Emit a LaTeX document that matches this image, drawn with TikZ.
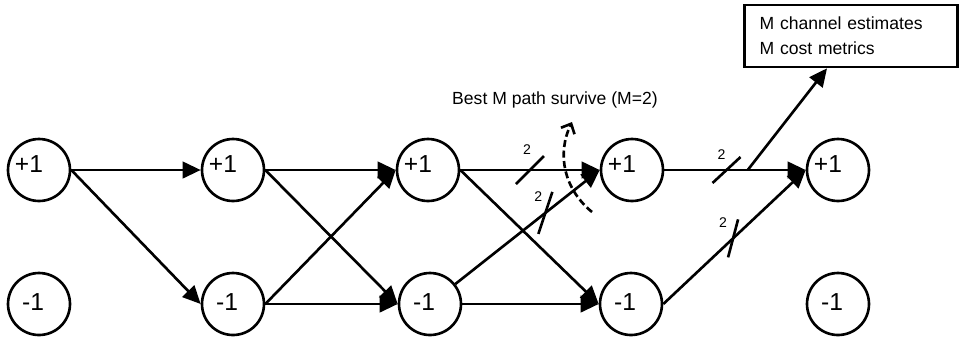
\documentclass[tikz,border=0pt]{standalone}
\usepackage{fontspec}
\setmainfont{Liberation Sans}
\usetikzlibrary{arrows.meta, positioning, calc}

\begin{document}
\begin{tikzpicture}[
      x=0.02cm, y=-0.02cm,
      state/.style={circle, draw, line width=1.5pt, minimum size=1.24cm, inner sep=0pt},
      val/.style={shift={(#1)}, inner sep=0pt, font=\fontsize{14}{16}\selectfont},
      arr/.style={-{Triangle[length=0.36cm, width=0.33cm]}, line width=1.5pt},
      bar/.style={line width=1.5pt},
      num/.style={font=\fontsize{8}{9}\selectfont, inner sep=0pt},
      surv/.style={-{Straight Barb[length=0.16cm, width=0.3cm]}, line width=1.5pt,
                   dash pattern=on 4pt off 2pt},
      box/.style={rectangle, draw, line width=1.5pt, minimum width=4.26cm, minimum height=1.24cm,
                  text width=3.66cm, inner xsep=0.3cm, align=left,
                  font=\fontsize{10}{14}\selectfont}
    ]
      \useasboundingbox (0,0) rectangle (960,343);

      \node[state, label={[val={-10,-6}]center:+1}] (c1p) at (39,170) {};
      \node[state, label={[val={-6,-2}]center:-1}] (c1m) at (39,304) {};
      \node[state, label={[val={-10,-6}]center:+1}] (c2p) at (233,170) {};
      \node[state, label={[val={-6,-2}]center:-1}] (c2m) at (233,304) {};
      \node[state, label={[val={-10,-6}]center:+1}] (c3p) at (428,170) {};
      \node[state, label={[val={-6,-2}]center:-1}] (c3m) at (430,304) {};
      \node[state, label={[val={-10,-6}]center:+1}] (c4p) at (632,170) {};
      \node[state, label={[val={-6,-2}]center:-1}] (c4m) at (631,304) {};
      \node[state, label={[val={-10,-6}]center:+1}] (c5p) at (838,170) {};
      \node[state, label={[val={-6,-2}]center:-1}] (c5m) at (838,304) {};

      \draw[arr] (c1p.east) -- (c2p.west);
      \draw[arr] (c1p.east) -- (c2m.west);
      \draw[arr] (c2p.east) -- (c3p.west);
      \draw[arr] (c2p.east) -- (c3m.west);
      \draw[arr] (c2m.east) -- (c3p.west);
      \draw[arr] (c2m.east) -- (c3m.west);
      \draw[arr] (c3p.east) -- (c4p.west);
      \draw[arr] (c3p.east) -- (c4m.west);
      \draw[arr] (c3m) -- (c4p.west);
      \draw[arr] (c3m.east) -- (c4m.west);
      \draw[arr] (c4p.east) -- (c5p.west);
      \draw[arr] (c4m.east) -- (c5p.west);

      % two-path bus marks
      \coordinate (k1) at ($(c3p.east)!0.5!(c4p.west)$);
      \coordinate (k2) at ($(c3m)!0.68!(c4p.west)$);
      \coordinate (k3) at ($(c4p.east)!0.44!(c5p.west)$);
      \coordinate (k4) at ($(c4m.east)!0.49!(c5p.west)$);
      \draw[bar] (k1) +(-14,14) -- +(14,-14);
      \draw[bar] (k2) +(-7,21) -- +(7,-21);
      \draw[bar] (k3) +(-14,13) -- +(14,-13);
      \draw[bar] (k4) +(-5,19) -- +(5,-19);
      \node[num] (n1) at ($(k1)+(-3,-20)$) {2};
      \node[num] (n2) at ($(k2)+(-7,-16)$) {2};
      \node[num] (n3) at ($(k3)+(-5,-15)$) {2};
      \node[num] (n4) at ($(k4)+(-10,-16)$) {2};

      % survivor selection
      \coordinate (sv0) at (592,212);
      \coordinate (sv1) at (572,122);
      \draw[surv] (sv0) to[bend left=38] (sv1);
      \node[font=\fontsize{10}{12}\selectfont] (best) at (555,100) {Best M path survive (M=2)};

      \node[box] (est) at (851,36) {M channel estimates\\M cost metrics};
      \coordinate (tap) at ($(c4p.east)!0.59!(c5p.west)$);
      \draw[arr] (tap) -- ([xshift=-0.48cm]est.south);
    \end{tikzpicture}
\end{document}
